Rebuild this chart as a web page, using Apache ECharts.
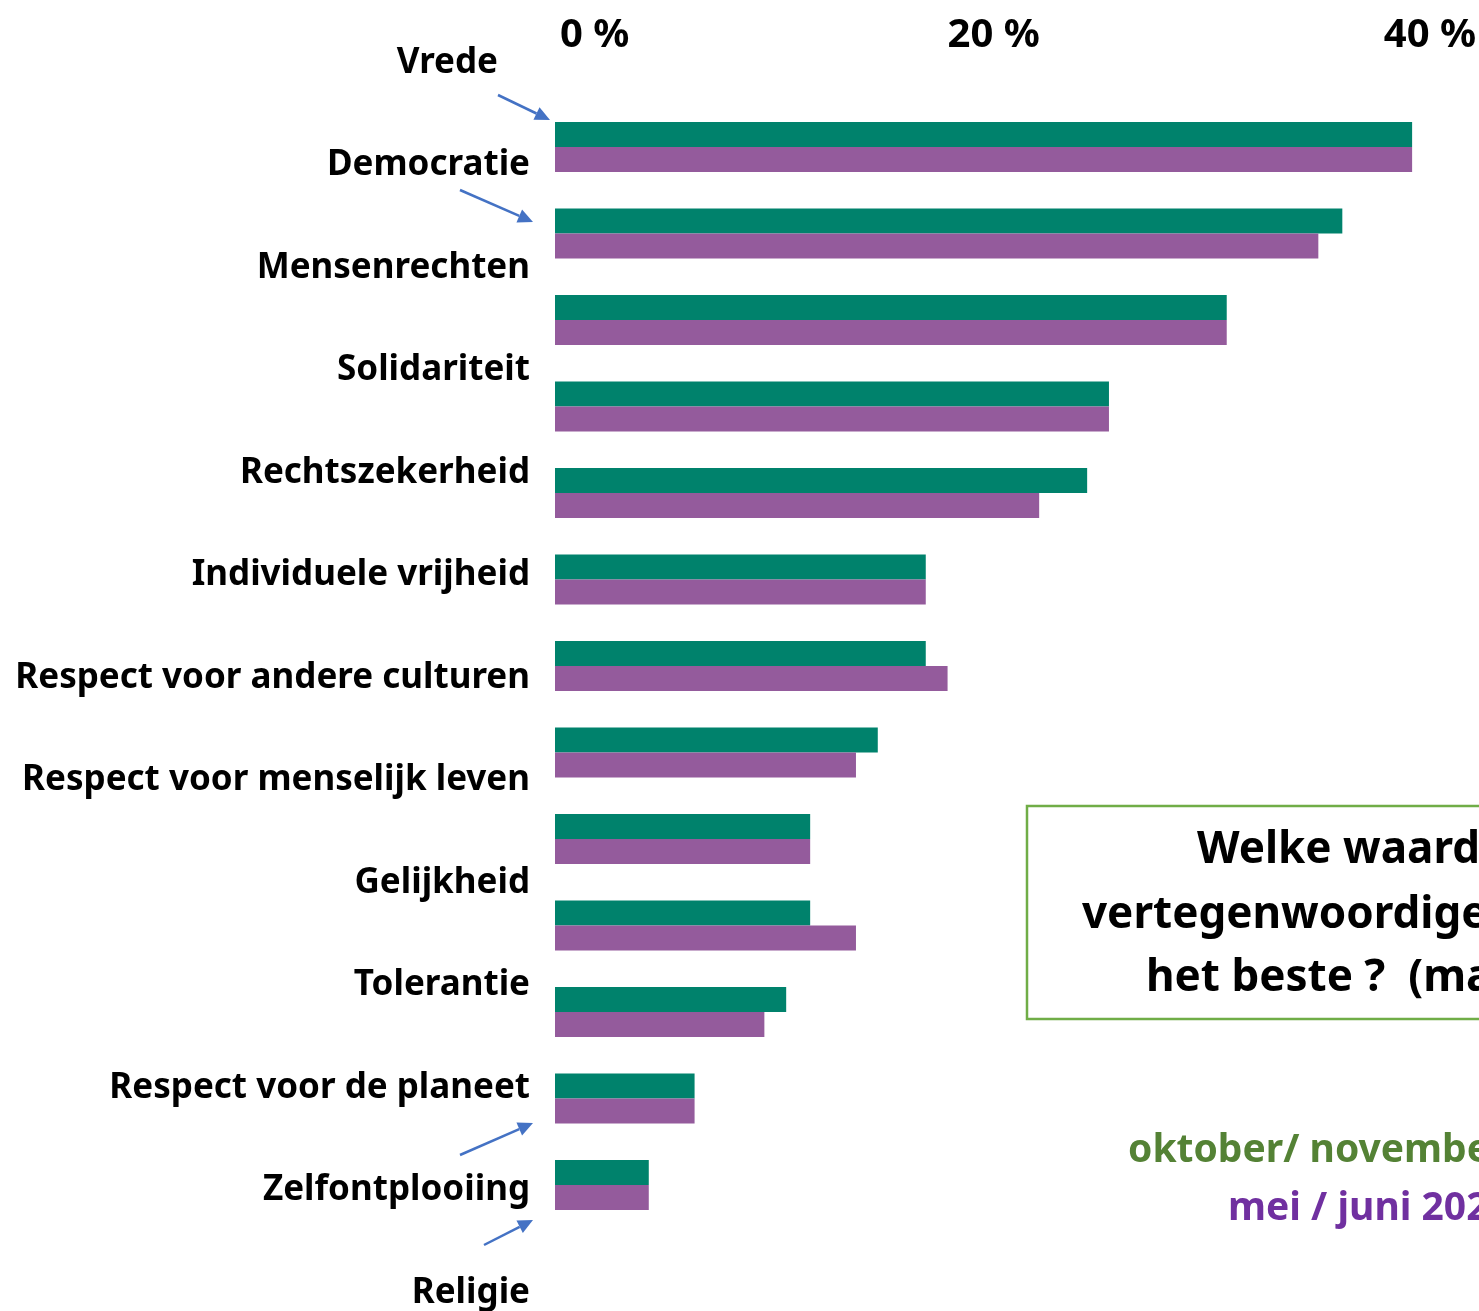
<!DOCTYPE html>
<html>
<head>
<meta charset="utf-8">
<title>Welke waarden vertegenwoordigen de EU het beste?</title>
<script src="https://cdn.jsdelivr.net/npm/echarts@6/dist/echarts.min.js"></script>
<style>
  html, body { margin: 0; padding: 0; background: #fff; }
  #chart { width: 1479px; height: 1311px; }
</style>
</head>
<body>
<div id="chart"></div>
<script>
// waarden (van boven naar onder)
const categories = [
  'Vrede', 'Democratie', 'Mensenrechten', 'Solidariteit', 'Rechtszekerheid',
  'Individuele vrijheid', 'Respect voor andere culturen', 'Respect voor menselijk leven',
  'Gelijkheid', 'Tolerantie', 'Respect voor de planeet', 'Zelfontplooiing', 'Religie'
]
// percentages per meting
const oktNov = [39.3, 36.1, 30.8, 25.4, 24.4, 17.0, 17.0, 14.8, 11.7, 11.7, 10.6, 6.4, 4.3]
const meiJuni = [39.3, 35.0, 30.8, 25.4, 22.2, 17.0, 18.0, 13.8, 11.7, 13.8, 9.6, 6.4, 4.3]
const seriesNames = ['oktober/ november 2019', 'mei / juni 2020']
// as: 0 % - 40 %
const axisMin = 0
const axisMax = 40
const axisStep = 20

const font = 'Noto Sans'
const arrowColor = '#4472C4'

// pijltje van (x1,y1) naar (x2,y2)
function arrow (x1, y1, x2, y2) {
  let a = Math.atan2(y2 - y1, x2 - x1)
  let len = 15
  let w = 7
  let bx = x2 - len * Math.cos(a)
  let by = y2 - len * Math.sin(a)
  let nx = -Math.sin(a) * w
  let ny = Math.cos(a) * w
  return {
    type: 'group',
    children: [
      {
        type: 'line',
        shape: { x1: x1, y1: y1, x2: bx, y2: by },
        style: { stroke: arrowColor, lineWidth: 2.5 }
      },
      {
        type: 'polygon',
        shape: { points: [[x2, y2], [bx + nx, by + ny], [bx - nx, by - ny]] },
        style: { fill: arrowColor }
      }
    ]
  }
}

const legendText = { fontFamily: font, fontWeight: 'bold', fontSize: 39, lineHeight: 48 }
const boxFont = 'bold 44px "Noto Sans"'
const labelText = { fontFamily: font, fontWeight: 'bold', fontSize: 35, color: '#000' }

const chart = echarts.init(document.getElementById('chart'))
const option = {
  backgroundColor: '#fff',
  animation: false,
  textStyle: { fontFamily: font },
  grid: [
    // staven
    { left: 555, width: 875, top: 103.75, height: 1124.5 },
    // labels links (eerste label bovenaan, laatste onderaan)
    { left: 535, width: 10, top: 63, height: 1230 }
  ],
  xAxis: [
    {
      gridIndex: 0,
      type: 'value',
      position: 'top',
      min: axisMin,
      max: axisMax,
      interval: axisStep,
      axisLine: { show: false },
      axisTick: { show: false },
      splitLine: { show: false },
      axisLabel: {
        formatter: '{value} %',
        fontFamily: font,
        fontWeight: 'bold',
        fontSize: 40,
        color: '#000',
        margin: 48,
        alignMinLabel: 'left',
        padding: [0, 0, 0, 5],
        showMinLabel: true,
        showMaxLabel: true
      }
    },
    {
      gridIndex: 1,
      type: 'value',
      show: false
    }
  ],
  yAxis: [
    {
      gridIndex: 0,
      type: 'category',
      inverse: true,
      data: categories,
      axisLine: { show: false },
      axisTick: { show: false },
      axisLabel: { show: false }
    },
    {
      gridIndex: 1,
      type: 'category',
      inverse: true,
      boundaryGap: false,
      data: categories,
      axisLine: { show: false },
      axisTick: { show: false },
      axisLabel: Object.assign({
        margin: 5,
        // "Vrede" staat in het origineel wat meer naar links
        formatter: function (value, index) {
          return index === 0 ? '{first|' + value + '}' : value
        },
        rich: {
          first: Object.assign({ padding: [0, 32, 0, 0] }, labelText)
        }
      }, labelText)
    }
  ],
  legend: [
    {
      data: [{ name: seriesNames[0], textStyle: { color: '#548235' } }],
      left: 1123,
      top: 1127,
      padding: 0,
      icon: 'none',
      itemWidth: 0,
      textStyle: legendText
    },
    {
      data: [{ name: seriesNames[1], textStyle: { color: '#7030A0' } }],
      left: 1223,
      top: 1185,
      padding: 0,
      icon: 'none',
      itemWidth: 0,
      textStyle: legendText
    }
  ],
  graphic: [
    {
      type: 'rect',
      shape: { x: 1027, y: 806, width: 600, height: 213 },
      style: { fill: 'none', stroke: '#70AD47', lineWidth: 2.5 }
    },
    {
      type: 'text',
      x: 1197,
      y: 850,
      style: { text: 'Welke waarden', font: boxFont, fill: '#000', verticalAlign: 'middle' }
    },
    {
      type: 'text',
      x: 1082,
      y: 915,
      style: { text: 'vertegenwoordigen de EU', font: boxFont, fill: '#000', verticalAlign: 'middle' }
    },
    {
      type: 'text',
      x: 1146,
      y: 978,
      style: { text: 'het beste ?  (max 3 antwoorden)', font: boxFont, fill: '#000', verticalAlign: 'middle' }
    },
    arrow(498, 95, 550, 120),
    arrow(460, 190, 533, 222),
    arrow(460, 1155, 533, 1123),
    arrow(484, 1245, 533, 1220)
  ],
  series: [
    {
      name: seriesNames[0],
      type: 'bar',
      xAxisIndex: 0,
      yAxisIndex: 0,
      data: oktNov,
      barWidth: 25,
      barGap: '0%',
      itemStyle: { color: '#00826C' }
    },
    {
      name: seriesNames[1],
      type: 'bar',
      xAxisIndex: 0,
      yAxisIndex: 0,
      data: meiJuni,
      barWidth: 25,
      barGap: '0%',
      itemStyle: { color: '#945B9C' }
    }
  ]
}
chart.setOption(option)
</script>
</body>
</html>
